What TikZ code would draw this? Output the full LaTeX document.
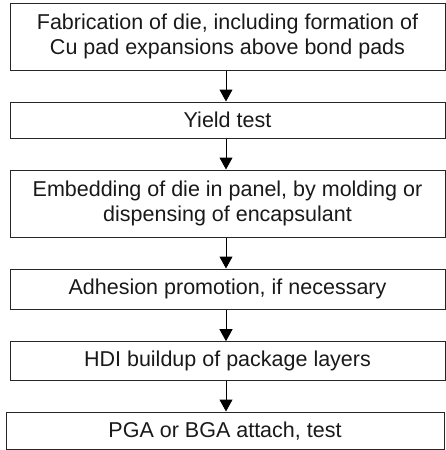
\documentclass[tikz,border=0pt]{standalone}
\usepackage{fontspec}
\setmainfont{Liberation Sans}
\usetikzlibrary{arrows.meta}
\begin{document}
\begin{tikzpicture}[x=1pt,y=-1pt,
  stepbox/.style={draw=black!85, line width=1pt, rectangle, inner sep=0pt, align=center,
    font=\fontsize{21.5}{25}\selectfont, text=black!90},
  arr/.style={draw=black, line width=1pt, -{Triangle[width=13pt,length=12pt]}}]
\useasboundingbox (0,0) rectangle (445,450);
\node[stepbox, minimum width=435pt, minimum height=67pt] (b1) at (227.5,36.5)
  {Fabrication of die, including formation of\\Cu pad expansions above bond pads};
\node[stepbox, minimum width=435pt, minimum height=36pt] (b2) at (227.5,120) {Yield test};
\node[stepbox, minimum width=435pt, minimum height=67.7pt] (b3) at (227.5,203.85)
  {Embedding of die in panel, by molding or\\dispensing of encapsulant};
\node[stepbox, minimum width=435pt, minimum height=40pt] (b4) at (227.5,289) {Adhesion promotion, if necessary};
\node[stepbox, minimum width=435pt, minimum height=38.3pt] (b5) at (227.5,360.85) {HDI buildup of package layers};
\node[stepbox, minimum width=438pt, minimum height=37.5pt] (b6) at (225,430.75) {PGA or BGA attach, test};
\draw[arr] ([xshift=-1.5pt]b1.south) -- ([xshift=-1.5pt]b2.north);
\draw[arr] ([xshift=-1.5pt]b2.south) -- ([xshift=-1.5pt]b3.north);
\draw[arr] ([xshift=-1.5pt]b3.south) -- ([xshift=-1.5pt]b4.north);
\draw[arr] ([xshift=-1.5pt]b4.south) -- ([xshift=-1.5pt]b5.north);
\draw[arr] ([xshift=-1.5pt]b5.south) -- ([xshift=1pt]b6.north);
\end{tikzpicture}
\end{document}
